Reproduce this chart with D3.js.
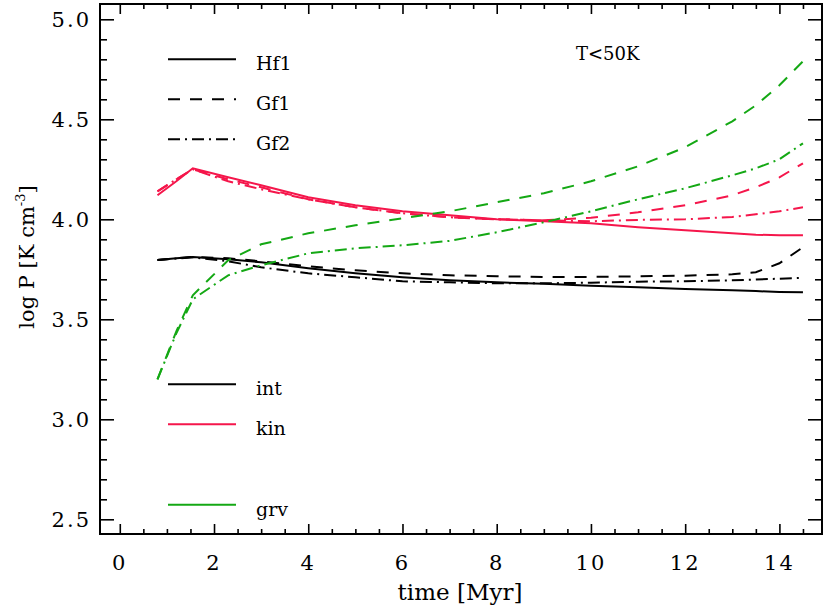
<!DOCTYPE html>
<html>
<head>
<meta charset="utf-8">
<script src="https://cdn.jsdelivr.net/npm/d3@7"></script>
<style>
  body { margin: 0; background: #fff; }
  svg text { font-family: "DejaVu Serif", serif; fill: #000; }
</style>
</head>
<body>
<svg id="chart" width="830" height="608"></svg>
<script>
// time axis (Myr), shared by every curve
const times = [0.8, 1.2, 1.55, 2.3, 3, 4, 5, 6, 7, 8, 9, 10, 11, 12, 13, 13.5, 14, 14.5];

// log P for each pressure term and each run
const intHf1 = [3.797, 3.805, 3.812, 3.80, 3.785, 3.755, 3.73, 3.71, 3.695, 3.685, 3.678, 3.668, 3.66, 3.652, 3.645, 3.641, 3.637, 3.635];
const intGf1 = [3.797, 3.805, 3.812, 3.805, 3.79, 3.765, 3.745, 3.73, 3.72, 3.715, 3.712, 3.712, 3.715, 3.718, 3.725, 3.735, 3.78, 3.86];
const intGf2 = [3.797, 3.804, 3.81, 3.79, 3.76, 3.73, 3.71, 3.69, 3.685, 3.68, 3.68, 3.683, 3.688, 3.69, 3.695, 3.699, 3.703, 3.707];
const kinHf1 = [4.12, 4.19, 4.255, 4.21, 4.17, 4.11, 4.07, 4.04, 4.02, 4.0, 3.99, 3.98, 3.96, 3.945, 3.93, 3.923, 3.92, 3.92];
const kinGf1 = [4.14, 4.20, 4.25, 4.20, 4.16, 4.10, 4.06, 4.03, 4.01, 4.0, 3.995, 4.008, 4.035, 4.07, 4.12, 4.16, 4.21, 4.28];
const kinGf2 = [4.14, 4.20, 4.25, 4.19, 4.15, 4.10, 4.06, 4.03, 4.01, 4.0, 3.995, 3.99, 3.997, 4.0, 4.012, 4.025, 4.04, 4.06];
const grvGf1 = [3.2, 3.44, 3.62, 3.795, 3.875, 3.93, 3.97, 4.005, 4.04, 4.085, 4.13, 4.19, 4.265, 4.36, 4.49, 4.57, 4.67, 4.79];
const grvGf2 = [3.2, 3.43, 3.60, 3.72, 3.77, 3.83, 3.855, 3.87, 3.892, 3.935, 3.985, 4.04, 4.10, 4.155, 4.22, 4.255, 4.30, 4.38];

// tick values
const xLabels = [0, 2, 4, 6, 8, 10, 12, 14];
const yLabels = [2.5, 3.0, 3.5, 4.0, 4.5, 5.0];

// legend entries
const runNames = ["Hf1", "Gf1", "Gf2"];
const termNames = ["int", "kin", "grv"];

const colors = { int: "#000000", kin: "#f5164b", grv: "#14a814" };
const dashes = { Hf1: null, Gf1: "12,10", Gf2: "12,5,2,5" };

const plotLeft = 100, plotRight = 822, plotTop = 4, plotBottom = 534;
const svg = d3.select("#chart");

const x = d3.scaleLinear().domain([-0.42, 14.904]).range([plotLeft, plotRight]);
const y = d3.scaleLinear().domain([2.4265, 5.0765]).range([plotBottom, plotTop]);

svg.append("clipPath").attr("id", "plotClip")
  .append("rect")
  .attr("x", plotLeft).attr("y", plotTop)
  .attr("width", plotRight - plotLeft).attr("height", plotBottom - plotTop);

// curves
let series = [
  { term: "int", run: "Hf1", values: intHf1 },
  { term: "int", run: "Gf1", values: intGf1 },
  { term: "int", run: "Gf2", values: intGf2 },
  { term: "kin", run: "Hf1", values: kinHf1 },
  { term: "kin", run: "Gf1", values: kinGf1 },
  { term: "kin", run: "Gf2", values: kinGf2 },
  { term: "grv", run: "Gf1", values: grvGf1 },
  { term: "grv", run: "Gf2", values: grvGf2 },
];

let line = d3.line()
  .x((d, i) => x(times[i]))
  .y(d => y(d));

let curveGroup = svg.append("g").attr("clip-path", "url(#plotClip)");
for (let s of series) {
  curveGroup.append("path")
    .attr("d", line(s.values))
    .attr("fill", "none")
    .attr("stroke", colors[s.term])
    .attr("stroke-width", 2)
    .attr("stroke-dasharray", dashes[s.run]);
}

// axes: labelled bottom/left, mirrored ticks on top/right
let xMajor = d3.range(0, 14.01, 2);
let xMinor = d3.range(0, 14.91, 0.5).filter(v => Math.abs(v % 2) > 1e-6);
let yMajor = d3.range(0, 6).map(i => 2.5 + i * 0.5);
let yMinor = d3.range(0, 26).filter(i => i % 5 !== 0).map(i => 2.5 + i * 0.1);

function tickLen(axis, major) {
  return axis === "x" ? (major ? 10 : 5) : (major ? 14 : 7);
}

let axes = svg.append("g");
axes.append("g").attr("transform", `translate(0,${plotBottom})`)
  .call(d3.axisBottom(x).tickValues(xMajor).tickSize(-tickLen("x", true)).tickFormat(""));
axes.append("g").attr("transform", `translate(0,${plotBottom})`)
  .call(d3.axisBottom(x).tickValues(xMinor).tickSize(-tickLen("x", false)).tickFormat(""));
axes.append("g").attr("transform", `translate(0,${plotTop})`)
  .call(d3.axisTop(x).tickValues(xMajor).tickSize(-tickLen("x", true)).tickFormat(""));
axes.append("g").attr("transform", `translate(0,${plotTop})`)
  .call(d3.axisTop(x).tickValues(xMinor).tickSize(-tickLen("x", false)).tickFormat(""));
axes.append("g").attr("transform", `translate(${plotLeft},0)`)
  .call(d3.axisLeft(y).tickValues(yMajor).tickSize(-tickLen("y", true)).tickFormat(""));
axes.append("g").attr("transform", `translate(${plotLeft},0)`)
  .call(d3.axisLeft(y).tickValues(yMinor).tickSize(-tickLen("y", false)).tickFormat(""));
axes.append("g").attr("transform", `translate(${plotRight},0)`)
  .call(d3.axisRight(y).tickValues(yMajor).tickSize(-tickLen("y", true)).tickFormat(""));
axes.append("g").attr("transform", `translate(${plotRight},0)`)
  .call(d3.axisRight(y).tickValues(yMinor).tickSize(-tickLen("y", false)).tickFormat(""));
axes.selectAll(".domain").remove();
axes.selectAll(".tick line").attr("stroke", "#000").attr("stroke-width", 1.6);

svg.append("rect")
  .attr("x", plotLeft).attr("y", plotTop)
  .attr("width", plotRight - plotLeft).attr("height", plotBottom - plotTop)
  .attr("fill", "none").attr("stroke", "#000").attr("stroke-width", 2);

// tick labels
svg.append("g").selectAll("text").data(xLabels).join("text")
  .attr("x", d => x(d)).attr("y", 570)
  .attr("text-anchor", "middle").attr("font-size", 21)
  .attr("letter-spacing", 2)
  .text(d => d);
svg.append("g").selectAll("text").data(yLabels).join("text")
  .attr("x", 91).attr("y", d => y(d) + 7.5)
  .attr("text-anchor", "end").attr("font-size", 21)
  .attr("letter-spacing", 2)
  .text(d => d.toFixed(1));

// axis titles
svg.append("text")
  .attr("x", 460).attr("y", 600)
  .attr("text-anchor", "middle").attr("font-size", 23)
  .text("time [Myr]");
let yTitle = svg.append("text")
  .attr("transform", "translate(34,257) rotate(-90)")
  .attr("text-anchor", "middle").attr("font-size", 21);
yTitle.append("tspan").text("log P [K cm");
yTitle.append("tspan").attr("font-size", 13).attr("dy", -9).text("-3");
yTitle.append("tspan").attr("dy", 9).text("]");

svg.append("text")
  .attr("x", 576).attr("y", 60)
  .attr("font-size", 18)
  .text("T<50K");

// legend: line styles for runs
let runY = d3.scaleOrdinal().domain(runNames).range([59.3, 99.3, 139.3]);
let runLegend = svg.append("g").selectAll("g").data(runNames).join("g");
runLegend.append("line")
  .attr("x1", 168).attr("x2", 236)
  .attr("y1", d => runY(d)).attr("y2", d => runY(d))
  .attr("stroke", "#000").attr("stroke-width", 2)
  .attr("stroke-dasharray", d => dashes[d]);
runLegend.append("text")
  .attr("x", 256).attr("y", d => runY(d) + 11)
  .attr("font-size", 19)
  .text(d => d);

// legend: colours for terms
let termY = d3.scaleOrdinal().domain(termNames).range([384.3, 424.3, 504.7]);
let termLegend = svg.append("g").selectAll("g").data(termNames).join("g");
termLegend.append("line")
  .attr("x1", 168).attr("x2", 236)
  .attr("y1", d => termY(d)).attr("y2", d => termY(d))
  .attr("stroke", d => colors[d]).attr("stroke-width", 2);
termLegend.append("text")
  .attr("x", 256).attr("y", d => termY(d) + 11)
  .attr("font-size", 19)
  .text(d => d);
</script>
</body>
</html>
